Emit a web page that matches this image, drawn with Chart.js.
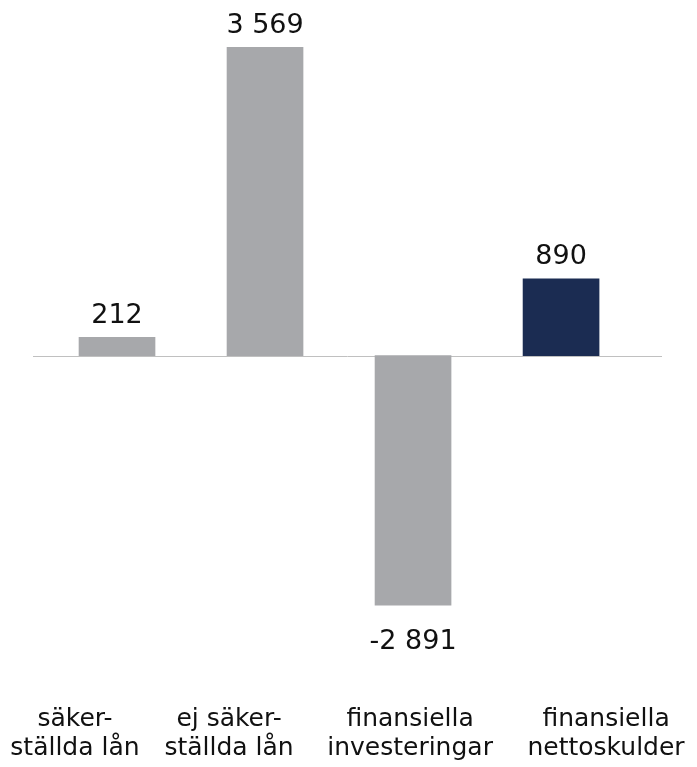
<!DOCTYPE html>
<html>
<head>
<meta charset="utf-8">
<script src="https://cdn.jsdelivr.net/npm/chart.js@4/dist/chart.umd.min.js"></script>
<style>
  html, body { margin: 0; padding: 0; background: #fff; }
  #wrap { width: 697px; height: 767px; position: relative; }
</style>
</head>
<body>
<div id="wrap"><canvas id="debtChart"></canvas></div>
<script>
// Data
const categories = ['säker-\nställda lån', 'ej säker-\nställda lån', 'finansiella\ninvesteringar', 'finansiella\nnettoskulder'];
const values = [212, 3569, -2891, 890];
const barColors = ['#a7a8ab', '#a7a8ab', '#a7a8ab', '#1b2c52'];

// where the category captions sit along the x axis (in bar-index units)
const captionAt = [-0.284, 0.757, 1.98, 3.304];

const fmt = v => (v < 0 ? '-' : '') + String(Math.abs(v)).replace(/\B(?=(\d{3})+(?!\d))/g, ' ');

// thin zero line across the plot
const zeroLine = {
    id: 'zeroLine',
    beforeDatasetsDraw(chart) {
        const { ctx, chartArea, scales } = chart;
        const y = Math.round(scales.y.getPixelForValue(0)) + 0.5;
        ctx.save();
        ctx.strokeStyle = '#c0c0c0';
        ctx.lineWidth = 1;
        ctx.beginPath();
        ctx.moveTo(chartArea.left, y);
        ctx.lineTo(chartArea.right, y);
        ctx.stroke();
        ctx.restore();
    }
};

const valueLabels = {
    id: 'valueLabels',
    afterDatasetsDraw(chart) {
        const ctx = chart.ctx;
        const meta = chart.getDatasetMeta(0);
        ctx.save();
        ctx.font = '27px "DejaVu Sans"';
        ctx.fillStyle = '#111';
        ctx.textAlign = 'center';
        ctx.textBaseline = 'alphabetic';
        meta.data.forEach((bar, i) => {
            const v = values[i];
            const y = v >= 0 ? bar.y - 14.5 : bar.y + 44;
            ctx.fillText(fmt(v), bar.x, y);
        });
        ctx.restore();
    }
};

new Chart(document.getElementById('debtChart'), {
    type: 'bar',
    data: {
        datasets: [{
            data: values.map((v, i) => ({ x: i, y: v })),
            backgroundColor: barColors,
            barThickness: 76,
            borderWidth: 0
        }]
    },
    options: {
        responsive: true,
        maintainAspectRatio: false,
        animation: false,
        layout: { padding: { top: 11, left: 33, right: 35, bottom: 0 } },
        scales: {
            x: {
                type: 'linear',
                offset: false,
                min: -0.5676,
                max: 3.682,
                afterBuildTicks: scale => {
                    scale.ticks = captionAt.map(v => ({ value: v }));
                },
                grid: { display: false, drawTicks: false },
                border: { display: false },
                ticks: {
                    autoSkip: false,
                    maxRotation: 0,
                    padding: 4,
                    color: '#111',
                    font: { family: 'DejaVu Sans', size: 25, lineHeight: 1.16 },
                    callback: (v, i) => categories[i].split('\n')
                }
            },
            y: {
                display: false,
                min: -4000,
                max: 3990
            }
        },
        plugins: {
            legend: { display: false },
            tooltip: { enabled: false }
        }
    },
    plugins: [zeroLine, valueLabels]
});
</script>
</body>
</html>
